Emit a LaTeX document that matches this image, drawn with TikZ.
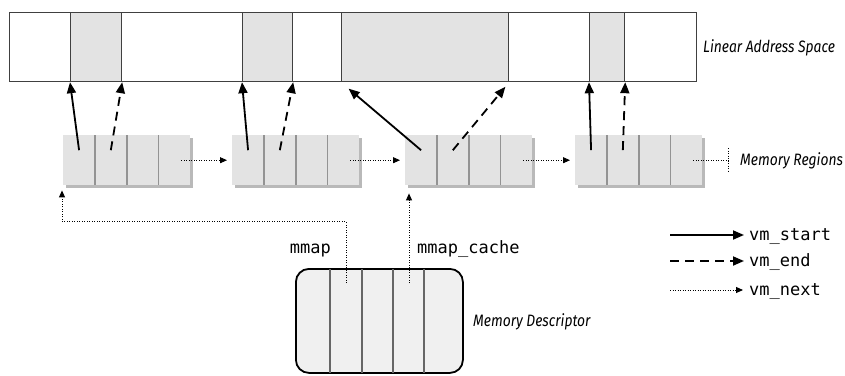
\documentclass[tikz,border=0pt]{standalone}
\usepackage{fontspec}
\newfontfamily\captfont[FakeStretch=0.84]{Fira Sans}
\newfontfamily\codefont{DejaVu Sans Mono}
\usepackage{tikz}
\usetikzlibrary{arrows.meta,positioning,shadows,calc}

\begin{document}
\begin{tikzpicture}[x=1pt, y=-1pt,
    seg/.style={rectangle, draw=black!75, line width=1.2pt, minimum height=69pt,
                inner sep=0pt, anchor=north west},
    free/.style={fill=white},
    used/.style={fill=gray!22},
    cell/.style={rectangle, fill=gray!22, minimum width=31.75pt, minimum height=50pt,
                 inner sep=0pt, anchor=north west,
                 drop shadow={shadow xshift=2.5pt, shadow yshift=-2.5pt, fill=gray!55, opacity=1}},
    divider/.style={gray!85, line width=1.4pt},
    mdbox/.style={rectangle, rounded corners=13pt, draw=black, line width=1.8pt,
                  fill=gray!12, minimum width=167pt, minimum height=104pt,
                  inner sep=0pt, anchor=north west},
    mddiv/.style={black!60, line width=1.5pt, shorten <=1pt, shorten >=1pt},
    startarrow/.style={-{Triangle[length=11pt, width=9pt]}, line width=1.8pt},
    endarrow/.style={startarrow, dash pattern=on 9pt off 6pt},
    nextline/.style={line width=0.9pt, dash pattern=on 0.9pt off 1.6pt},
    nextarrow/.style={nextline, -{Triangle[length=7pt, width=6pt]}},
    caption/.style={font=\captfont\itshape\fontsize{16.5}{18}\selectfont, inner sep=0pt},
    code/.style={font=\codefont\fontsize{17}{19}\selectfont, inner sep=0pt}
]
    \useasboundingbox (0,0) rectangle (845,375);

    % Linear address space
    \foreach \n/\x/\w/\st in {1/9/61/free, 2/70/51/used, 3/121/121/free,
                              4/242/50/used, 5/292/49/free, 6/341/167/used,
                              7/508/81/free, 8/589/35/used, 9/624/72/free}
        \node[seg, \st, minimum width=\w pt] (s\n) at (\x,12) {};
    \node[caption, anchor=base west] (lascap) at (703,52) {Linear Address Space};

    % Memory regions
    \foreach \r/\x in {1/63, 2/232, 3/405, 4/575} {
        \foreach \c in {1,...,4}
            \node[cell] (r\r-\c) at ({\x+(\c-1)*31.75},135) {};
        \foreach \c in {1,2,3}
            \draw[divider] (r\r-\c.north east) -- (r\r-\c.south east);
    }
    \node[caption, anchor=base west] (mrcap) at (740,165) {Memory Regions};

    \draw[startarrow] ([yshift=10pt]r1-1.center) -- (s2.south west);
    \draw[endarrow]   ([yshift=10pt]r1-2.center) -- (s2.south east);
    \draw[startarrow] ([yshift=10pt]r2-1.center) -- (s4.south west);
    \draw[endarrow]   ([yshift=10pt]r2-2.center) -- (s4.south east);
    \draw[startarrow, shorten >=10pt] ([yshift=10pt]r3-1.center) -- (s6.south west);
    \draw[endarrow, shorten >=6pt]    ([yshift=10pt]r3-2.center) -- (s6.south east);
    \draw[startarrow] ([yshift=10pt]r4-1.center) -- (s8.south west);
    \draw[endarrow]   ([yshift=10pt]r4-2.center) -- (s8.south east);

    \draw[nextarrow] ([xshift=7pt]r1-4.center) -- ([xshift=-5pt]r2-1.west);
    \draw[nextarrow] ([xshift=7pt]r2-4.center) -- ([xshift=-5pt]r3-1.west);
    \draw[nextarrow] ([xshift=7pt]r3-4.center) -- ([xshift=-5pt]r4-1.west);
    \coordinate (tail) at ([xshift=26pt]r4-4.east);
    \draw[nextline] ([xshift=7pt]r4-4.center) -- (tail);
    \draw[nextline] ([yshift=12pt]tail) -- ([yshift=-12pt]tail);

    % Memory descriptor
    \node[mdbox] (mdesc) at (295,268) {};
    \foreach \d in {35,67,98,129}
        \draw[mddiv] ([xshift=\d pt]mdesc.north west) -- ([xshift=\d pt]mdesc.south west);
    \node[caption, anchor=base west] (mdcap) at (473,326) {Memory Descriptor};

    \coordinate (mmapfrom)  at ([xshift=51pt, yshift=-15pt]mdesc.north west);
    \coordinate (cachefrom) at ([xshift=114pt, yshift=-15pt]mdesc.north west);
    \draw[nextarrow] (mmapfrom) |- ([xshift=-1pt, yshift=-36pt]r1-1.south west)
                                -- ([xshift=-1pt, yshift=-5pt]r1-1.south west);
    \draw[nextarrow] (cachefrom) -- ($(cachefrom |- r3-1.south)+(0,8)$);
    \node[code, anchor=base east] (mmaplbl)  at (331,253) {mmap};
    \node[code, anchor=base west] (cachelbl) at (417,253) {mmap\_cache};

    % Legend
    \node[code, anchor=base west] (vmstart) at (749,240) {vm\_start};
    \node[code, anchor=base west] (vmend)   at (749,266) {vm\_end};
    \node[code, anchor=base west] (vmnext)  at (749,295) {vm\_next};
    \coordinate (l1) at (670,235);
    \coordinate (l2) at (670,261);
    \coordinate (l3) at (670,290);
    \draw[startarrow, shorten >=5pt] (l1) -- (l1 -| vmstart.west);
    \draw[endarrow, shorten >=5pt]   (l2) -- (l2 -| vmend.west);
    \draw[nextarrow, shorten >=6pt]  (l3) -- (l3 -| vmnext.west);
\end{tikzpicture}
\end{document}
